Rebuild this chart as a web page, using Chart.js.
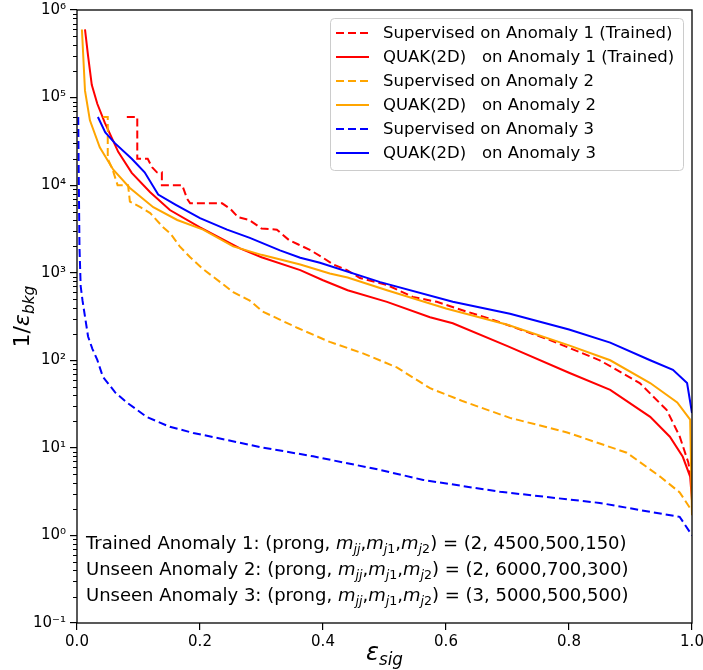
<!DOCTYPE html>
<html>
<head>
<meta charset="utf-8">
<script src="https://cdn.jsdelivr.net/npm/chart.js@4.4.1/dist/chart.umd.min.js"></script>
<style>
  html, body { margin: 0; padding: 0; background: #ffffff; }
  #wrap { width: 703px; height: 670px; }
</style>
</head>
<body>
<div id="wrap"><canvas id="roc" width="703" height="670"></canvas></div>
<script>
// Signal efficiency (x) and background rejection 1/eps_bkg (y) of every curve.
const sup1Eff = [0.081, 0.098, 0.098, 0.115, 0.122, 0.130, 0.138, 0.138, 0.171, 0.179, 0.184, 0.236, 0.250, 0.262, 0.280, 0.300, 0.325, 0.345, 0.360, 0.380, 0.400, 0.417, 0.439, 0.460, 0.504, 0.546, 0.585, 0.623, 0.667, 0.709, 0.769, 0.850, 0.915, 0.959, 0.980, 0.994, 1.000];
const sup1Rej = [60000, 60000, 20000, 20000, 16000, 14000, 14000, 10000, 10000, 7000, 6200, 6200, 5300, 4300, 4000, 3200, 3100, 2350, 2100, 1800, 1480, 1240, 1070, 870, 725, 530, 465, 380, 305, 240, 170, 100, 55, 27, 13.5, 6.8, 4.0];

const quak1Eff = [0.013, 0.018, 0.024, 0.033, 0.045, 0.067, 0.089, 0.119, 0.151, 0.200, 0.265, 0.300, 0.363, 0.400, 0.440, 0.504, 0.574, 0.611, 0.700, 0.800, 0.867, 0.932, 0.964, 0.985, 0.997, 1.000];
const quak1Rej = [600000, 300000, 140000, 85000, 52000, 24000, 13800, 8300, 5200, 3300, 1900, 1500, 1070, 820, 630, 465, 310, 265, 145, 72, 46, 22.6, 13.4, 7.9, 4.7, 2.5];

const sup2Eff = [0.042, 0.050, 0.050, 0.058, 0.066, 0.083, 0.086, 0.103, 0.119, 0.140, 0.152, 0.167, 0.184, 0.205, 0.233, 0.254, 0.281, 0.302, 0.358, 0.411, 0.465, 0.520, 0.574, 0.628, 0.704, 0.797, 0.894, 0.948, 0.980, 1.000];
const sup2Rej = [60000, 60000, 20000, 15000, 10000, 10000, 6500, 5600, 4800, 3300, 2800, 2000, 1500, 1100, 780, 600, 480, 360, 235, 162, 120, 83, 48, 34, 22, 15, 8.8, 4.7, 3.1, 1.9];

const quak2Eff = [0.008, 0.013, 0.021, 0.037, 0.059, 0.086, 0.124, 0.163, 0.205, 0.254, 0.300, 0.363, 0.411, 0.440, 0.504, 0.600, 0.700, 0.800, 0.867, 0.932, 0.976, 0.997, 1.000];
const quak2Rej = [600000, 120000, 55000, 27000, 15000, 9300, 5600, 4000, 3100, 2000, 1600, 1240, 980, 880, 630, 390, 255, 148, 100, 55, 33, 21, 1.7];

const sup3Eff = [0.002, 0.003, 0.004, 0.006, 0.009, 0.013, 0.018, 0.025, 0.033, 0.042, 0.062, 0.081, 0.114, 0.151, 0.189, 0.244, 0.298, 0.384, 0.493, 0.563, 0.688, 0.850, 0.932, 0.980, 1.000];
const sup3Rej = [60000, 10000, 2000, 700, 480, 315, 187, 135, 101, 65, 43, 33, 22.4, 17.4, 14.8, 12.3, 10.2, 8.0, 5.6, 4.3, 3.15, 2.35, 1.86, 1.63, 1.0];

const quak3Eff = [0.034, 0.046, 0.062, 0.089, 0.110, 0.132, 0.160, 0.200, 0.244, 0.281, 0.330, 0.363, 0.395, 0.493, 0.611, 0.704, 0.800, 0.867, 0.932, 0.969, 0.992, 1.000];
const quak3Rej = [60000, 40000, 30000, 20000, 14000, 7800, 6000, 4200, 3100, 2500, 1800, 1480, 1300, 780, 465, 340, 225, 159, 100, 78, 55, 25];

// Legend labels, in drawing order.
const seriesLabels = [
  "Supervised on Anomaly 1 (Trained)",
  "QUAK(2D)   on Anomaly 1 (Trained)",
  "Supervised on Anomaly 2",
  "QUAK(2D)   on Anomaly 2",
  "Supervised on Anomaly 3",
  "QUAK(2D)   on Anomaly 3"
];

// Axis ticks.
const xTickValues = [0.0, 0.2, 0.4, 0.6, 0.8, 1.0];
const yTickExponents = [-1, 0, 1, 2, 3, 4, 5, 6];

// Signal hypotheses listed in the lower-left corner.
const anomalyTags = ["Trained Anomaly 1", "Unseen Anomaly 2", "Unseen Anomaly 3"];
const anomalyProng = [2, 2, 3];
const anomalyMjj = [4500, 6000, 5000];
const anomalyMj1 = [500, 700, 500];
const anomalyMj2 = [150, 300, 500];

const RED = "#ff0000", ORANGE = "#ffa500", BLUE = "#0000ff";
const DASH = [8, 4];
const FONT = "'DejaVu Sans', 'Liberation Sans', sans-serif";

function pts(xs, ys) { return xs.map((x, i) => ({ x: x, y: ys[i] })); }

function curve(i, xs, ys, color, dashed) {
  return {
    label: seriesLabels[i],
    data: pts(xs, ys),
    borderColor: color,
    backgroundColor: color,
    borderWidth: 2,
    borderDash: dashed ? DASH : [],
    pointRadius: 0,
    tension: 0,
    fill: false,
    order: 6 - i
  };
}

const SUP = { "0": "\u2070", "1": "\u00b9", "2": "\u00b2", "3": "\u00b3", "4": "\u2074", "5": "\u2075", "6": "\u2076", "-": "\u207b" };
function powerLabel(e) { return "10" + String(e).split("").map(c => SUP[c]).join(""); }

// Draws a run of text pieces; style: r = upright, i = italic, si = italic subscript, s = upright subscript
function richWidth(ctx, parts, size) {
  let w = 0;
  for (const [t, st] of parts) {
    const sub = st === "si" || st === "s";
    const it = st === "i" || st === "si";
    ctx.font = (it ? "italic " : "") + (sub ? size * 0.7 : size) + "px " + FONT;
    w += ctx.measureText(t).width;
  }
  return w;
}
function drawRich(ctx, x, y, parts, size) {
  let cx = x;
  for (const [t, st] of parts) {
    const sub = st === "si" || st === "s";
    const it = st === "i" || st === "si";
    ctx.font = (it ? "italic " : "") + (sub ? size * 0.7 : size) + "px " + FONT;
    ctx.fillText(t, cx, sub ? y + size * 0.22 : y);
    cx += ctx.measureText(t).width;
  }
}

const decorations = {
  id: "decorations",
  afterDraw(chart) {
    const ctx = chart.ctx;
    const a = chart.chartArea;
    const ys = chart.scales.y;
    ctx.save();

    // minor log ticks
    ctx.strokeStyle = "#000";
    ctx.lineWidth = 1;
    for (let e = -1; e < 6; e++) {
      for (let k = 2; k <= 9; k++) {
        const py = Math.round(ys.getPixelForValue(k * Math.pow(10, e))) + 0.5;
        ctx.beginPath();
        ctx.moveTo(a.left - 4, py);
        ctx.lineTo(a.left, py);
        ctx.stroke();
      }
    }

    // axes frame
    ctx.lineWidth = 1.3;
    ctx.strokeStyle = "#000";
    ctx.strokeRect(a.left, a.top, a.right - a.left, a.bottom - a.top);

    // legend
    const lx = 330, ly = 18, lw = 353, lh = 152;
    ctx.fillStyle = "rgba(255,255,255,0.8)";
    ctx.strokeStyle = "#cccccc";
    ctx.lineWidth = 1;
    ctx.beginPath();
    ctx.roundRect(lx + 0.5, ly + 0.5, lw, lh, 4);
    ctx.fill();
    ctx.stroke();
    chart.data.datasets.forEach((ds, i) => {
      const ry = 33 + 24 * i;
      ctx.strokeStyle = ds.borderColor;
      ctx.lineWidth = 2;
      ctx.setLineDash(ds.borderDash);
      ctx.beginPath();
      ctx.moveTo(336, ry);
      ctx.lineTo(369, ry);
      ctx.stroke();
      ctx.setLineDash([]);
      ctx.fillStyle = "#000";
      ctx.font = "16.5px " + FONT;
      ctx.textBaseline = "middle";
      ctx.textAlign = "left";
      ctx.fillText(ds.label, 383, ry + 1);
    });

    // signal hypotheses
    ctx.textBaseline = "alphabetic";
    ctx.textAlign = "left";
    ctx.fillStyle = "#000";
    anomalyTags.forEach((tag, i) => {
      const parts = [
        [tag + ": (prong, ", "r"], ["m", "i"], ["jj", "si"], [",", "r"],
        ["m", "i"], ["j", "si"], ["1", "s"], [",", "r"],
        ["m", "i"], ["j", "si"], ["2", "s"],
        [") = (" + anomalyProng[i] + ", " + anomalyMjj[i] + "," + anomalyMj1[i] + "," + anomalyMj2[i] + ")", "r"]
      ];
      drawRich(ctx, 86, 549 + 26 * i, parts, 18);
    });

    // x axis title
    const xt = [["\u03b5", "i"], ["sig", "si"]];
    const xw = richWidth(ctx, xt, 24);
    drawRich(ctx, (a.left + a.right) / 2 - xw / 2, 660, xt, 24);

    // y axis title
    const yt = [["1/", "r"], ["\u03b5", "i"], ["bkg", "si"]];
    const yw = richWidth(ctx, yt, 22);
    ctx.translate(29, (a.top + a.bottom) / 2);
    ctx.rotate(-Math.PI / 2);
    drawRich(ctx, -yw / 2, 0, yt, 22);

    ctx.restore();
  }
};

Chart.defaults.font.family = FONT;
Chart.defaults.font.size = 15;
Chart.defaults.color = "#000";

new Chart(document.getElementById("roc"), {
  type: "line",
  data: {
    datasets: [
      curve(0, sup1Eff, sup1Rej, RED, true),
      curve(1, quak1Eff, quak1Rej, RED, false),
      curve(2, sup2Eff, sup2Rej, ORANGE, true),
      curve(3, quak2Eff, quak2Rej, ORANGE, false),
      curve(4, sup3Eff, sup3Rej, BLUE, true),
      curve(5, quak3Eff, quak3Rej, BLUE, false)
    ]
  },
  options: {
    responsive: false,
    animation: false,
    devicePixelRatio: 1,
    layout: { padding: { top: 10, right: 11, left: 0, bottom: 0 } },
    plugins: { legend: { display: false }, tooltip: { enabled: false } },
    scales: {
      x: {
        type: "linear",
        min: 0, max: 1,
        afterBuildTicks(s) { s.ticks = xTickValues.map(v => ({ value: v })); },
        afterFit(s) { s.height = 47; s.paddingLeft = 0; s.paddingRight = 0; },
        ticks: { callback: v => Number(v).toFixed(1), padding: 3, maxRotation: 0, autoSkip: false, font: { size: 15 } },
        grid: { drawOnChartArea: false, drawTicks: true, tickLength: 7, color: "#000", lineWidth: 1.2 },
        border: { display: false }
      },
      y: {
        type: "logarithmic",
        min: 0.1, max: 1e6,
        afterBuildTicks(s) { s.ticks = yTickExponents.map(e => ({ value: Math.pow(10, e) })); },
        afterFit(s) { s.width = 77; s.paddingTop = 0; s.paddingBottom = 0; },
        ticks: { callback: v => powerLabel(Math.round(Math.log10(v))), padding: 4, autoSkip: false, font: { size: 15 } },
        grid: { drawOnChartArea: false, drawTicks: true, tickLength: 7, color: "#000", lineWidth: 1.2 },
        border: { display: false }
      }
    }
  },
  plugins: [decorations]
});
</script>
</body>
</html>
